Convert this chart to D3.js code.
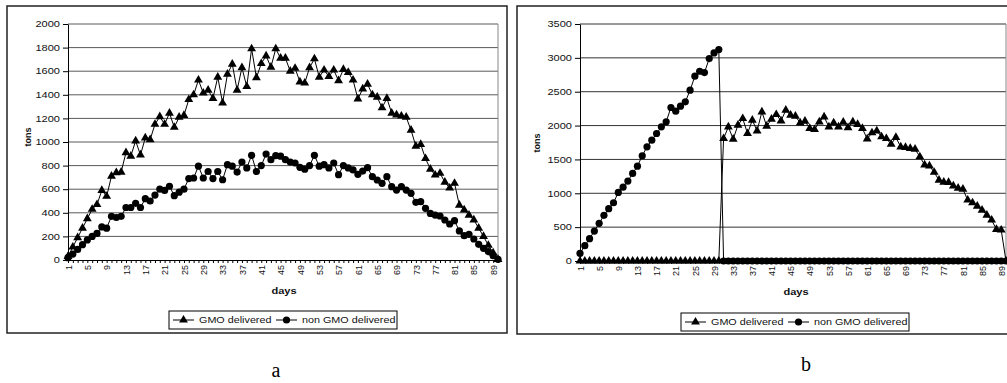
<!DOCTYPE html>
<html>
<head>
<meta charset="utf-8">
<script src="https://cdn.jsdelivr.net/npm/d3@7"></script>
<style>
  body { margin: 0; background: #fff; }
  svg { display: block; font-family: "Liberation Sans", Arial, sans-serif; }
</style>
</head>
<body>
<div id="chart"></div>
<script>
// categories: delivery days 1..90
var days = d3.range(1, 91);
var tickDays = [1, 5, 9, 13, 17, 21, 25, 29, 33, 37, 41, 45, 49, 53, 57, 61, 65, 69, 73, 77, 81, 85, 89];
var yTicksA = [0, 200, 400, 600, 800, 1000, 1200, 1400, 1600, 1800, 2000];
var yTicksB = [0, 500, 1000, 1500, 2000, 2500, 3000, 3500];
var seriesNames = ["GMO delivered", "non GMO delivered"];

// panel a
var gmoA = [
  30, 110, 190, 270, 350, 430, 470, 590, 540, 710,
  740, 745, 910, 880, 1010, 890, 1035, 1020, 1150, 1215,
  1150, 1245, 1125, 1210, 1225, 1360, 1400, 1525, 1415, 1440,
  1370, 1550, 1330, 1575, 1660, 1440, 1630, 1470, 1790, 1545,
  1665, 1730, 1635, 1790, 1710, 1710, 1600, 1625, 1510, 1500,
  1630, 1705, 1550, 1610, 1555, 1610, 1520, 1615, 1590, 1525,
  1365, 1450, 1490, 1400, 1380, 1290, 1370, 1245, 1230, 1220,
  1210, 1100, 965, 980, 860, 770, 720, 735, 660, 610,
  650, 465, 425, 380, 340, 270, 200, 125, 60, 5
];
var nonGmoA = [
  20, 50, 90, 130, 170, 200, 225, 280, 270, 370,
  360, 370, 445, 445, 480, 445, 520, 500, 550, 600,
  590, 625, 545, 575, 600, 690, 695, 795, 695, 750,
  690, 750, 680, 808, 795, 745, 830, 780, 887, 750,
  800, 898, 850, 885, 880, 850, 830, 822, 785, 770,
  800, 887, 795, 808, 780, 822, 723, 800, 780, 763,
  726, 754, 782, 706, 678, 650, 706, 621, 593, 621,
  593, 565, 489, 494, 438, 395, 381, 373, 339, 305,
  333, 246, 206, 218, 178, 133, 99, 71, 37, 6
];

// panel b
var gmoB = [
  0, 0, 0, 0, 0, 0, 0, 0, 0, 0,
  0, 0, 0, 0, 0, 0, 0, 0, 0, 0,
  0, 0, 0, 0, 0, 0, 0, 0, 0, 0,
  1809, 1981, 1800, 2006, 2104, 1883, 2080, 1922, 2203, 1991,
  2094, 2163, 2070, 2227, 2153, 2139, 2040, 2065, 1957, 1942,
  2055, 2129, 1981, 2040, 1981, 2050, 1969, 2055, 2016, 1957,
  1804, 1893, 1922, 1834, 1809, 1726, 1824, 1686, 1677, 1662,
  1652, 1539, 1420, 1405, 1310, 1195, 1165, 1160, 1110, 1075,
  1060, 900, 860, 811, 752, 678, 605, 467, 457, 0
];
var nonGmoB = [
  113, 226, 330, 442, 556, 674, 772, 860, 1013, 1090,
  1180, 1293, 1401, 1554, 1686, 1785, 1883, 1981, 2055, 2267,
  2212, 2286, 2350, 2522, 2729, 2802, 2783, 2989, 3073, 3122,
  0, 0, 0, 0, 0, 0, 0, 0, 0, 0,
  0, 0, 0, 0, 0, 0, 0, 0, 0, 0,
  0, 0, 0, 0, 0, 0, 0, 0, 0, 0,
  0, 0, 0, 0, 0, 0, 0, 0, 0, 0,
  0, 0, 0, 0, 0, 0, 0, 0, 0, 0,
  0, 0, 0, 0, 0, 0, 0, 0, 0, 0
];

var W = 1007, H = 383;
var STRETCH = 1.3;   // the scanned figure is wider than tall

var svg = d3.select("#chart").append("svg")
  .attr("width", W)
  .attr("height", H);
svg.append("rect").attr("width", W).attr("height", H).attr("fill", "#fff");

var triangle = d3.symbol().type(d3.symbolTriangle).size(34);

function hText(g, x, y, txt, anchor, size, weight) {
  return g.append("text")
    .attr("transform", "translate(" + x + "," + y + ") scale(" + STRETCH + ",1)")
    .attr("text-anchor", anchor)
    .style("font-size", size + "px")
    .style("font-weight", weight || "normal")
    .attr("fill", "#111")
    .text(txt);
}

function drawMarkers(g, sel, type) {
  if (type == "tri") {
    sel.append("path").attr("d", triangle).attr("fill", "#000");
  } else {
    sel.append("circle").attr("r", 3.6).attr("fill", "#000");
  }
}

function drawPanel(cfg) {
  var g = svg.append("g").attr("class", "panel");
  var p = cfg.plot;

  // outer frame
  g.append("rect")
    .attr("x", cfg.box.x).attr("y", cfg.box.y)
    .attr("width", cfg.box.w).attr("height", cfg.box.h)
    .attr("fill", "none").attr("stroke", "#222").attr("stroke-width", 1.5);

  var x = d3.scalePoint().domain(days).range([p.left, p.right]).padding(0);
  var y = d3.scaleLinear().domain([0, cfg.yMax]).range([p.bottom, p.top]);

  // grid
  g.append("g").selectAll("line")
    .data(cfg.yTicks.filter(function (d) { return d > 0; }))
    .enter().append("line")
    .attr("x1", p.left).attr("x2", p.right)
    .attr("y1", function (d) { return y(d); })
    .attr("y2", function (d) { return y(d); })
    .attr("stroke", cfg.grid).attr("stroke-width", 1);

  g.append("line")
    .attr("x1", p.right).attr("x2", p.right)
    .attr("y1", p.top).attr("y2", p.bottom)
    .attr("stroke", "#888");

  // y axis
  var yAxis = g.append("g")
    .attr("transform", "translate(" + p.left + ",0)")
    .call(d3.axisLeft(y).tickValues(cfg.yTicks).tickFormat(d3.format("d"))
      .tickSize(5).tickSizeOuter(0).tickPadding(3));
  yAxis.attr("font-family", null).attr("font-size", null);
  yAxis.selectAll("text")
    .attr("x", 0)
    .attr("transform", "translate(-8,0) scale(" + STRETCH + ",1)")
    .style("font-size", "8.5px").attr("fill", "#111");

  // x axis
  var xAxis = g.append("g")
    .attr("transform", "translate(0," + p.bottom + ")")
    .call(d3.axisBottom(x).tickValues(days).tickSize(3).tickSizeOuter(0)
      .tickFormat(function (d) { return tickDays.indexOf(d) >= 0 ? d : ""; }));
  xAxis.attr("font-family", null).attr("font-size", null);
  xAxis.selectAll("text")
    .attr("transform", "rotate(-90)")
    .attr("x", -5).attr("y", 0).attr("dy", "0.35em")
    .style("text-anchor", "end")
    .style("font-size", "9px").attr("fill", "#111");
  g.selectAll(".domain").attr("stroke", "#000");
  g.selectAll(".tick line").attr("stroke", "#000");

  // series
  var line = d3.line()
    .x(function (d, i) { return x(days[i]); })
    .y(function (d) { return y(d); });

  var series = [
    { name: seriesNames[0], values: cfg.gmo, type: "tri" },
    { name: seriesNames[1], values: cfg.nonGmo, type: "dot" }
  ];

  series.forEach(function (s) {
    var sg = g.append("g").attr("class", "series");
    sg.append("path")
      .attr("d", line(s.values))
      .attr("fill", "none").attr("stroke", "#000").attr("stroke-width", 1);
    var pts = sg.selectAll(".pt")
      .data(s.values).enter().append("g")
      .attr("class", "pt")
      .attr("transform", function (d, i) { return "translate(" + x(days[i]) + "," + y(d) + ")"; });
    drawMarkers(sg, pts, s.type);
  });

  // axis titles
  g.append("text")
    .attr("transform", "translate(" + cfg.tons[0] + "," + cfg.tons[1] + ") rotate(-90)")
    .attr("text-anchor", "middle").attr("dy", "0.35em")
    .style("font-size", "9px").style("font-weight", "bold")
    .attr("fill", "#111")
    .text("tons");
  hText(g, cfg.daysPos[0], cfg.daysPos[1], "days", "middle", 8.5, "bold");

  // legend
  var L = cfg.legend;
  var lg = g.append("g").attr("transform", "translate(" + L.x + "," + L.y + ")");
  lg.append("rect").attr("width", L.w).attr("height", L.h)
    .attr("fill", "#fff").attr("stroke", "#000").attr("stroke-width", 1);
  var items = [{ x: 4, tx: 30, s: series[0] }, { x: 107, tx: 133, s: series[1] }];
  items.forEach(function (it) {
    lg.append("line")
      .attr("x1", it.x).attr("x2", it.x + 21)
      .attr("y1", L.h / 2).attr("y2", L.h / 2)
      .attr("stroke", "#000");
    var m = lg.append("g").attr("transform", "translate(" + (it.x + 10.5) + "," + (L.h / 2) + ")");
    drawMarkers(lg, m, it.s.type);
    hText(lg, it.tx, L.h / 2 + 3.2, it.s.name, "start", 8.3);
  });

  // caption
  g.append("text")
    .attr("x", cfg.caption[0]).attr("y", cfg.caption[1])
    .attr("text-anchor", "middle")
    .style("font-family", "'Liberation Serif', 'Times New Roman', serif")
    .style("font-size", "20px")
    .text(cfg.caption[2]);
}

drawPanel({
  box: { x: 7, y: 6, w: 500, h: 327 },
  plot: { left: 68, right: 498, top: 24, bottom: 260 },
  yMax: 2000, yTicks: yTicksA, grid: "#5a5a5a",
  gmo: gmoA, nonGmo: nonGmoA,
  tons: [28, 137], daysPos: [284, 294],
  legend: { x: 169, y: 311, w: 228, h: 18 },
  caption: [276, 377, "a"]
});

drawPanel({
  box: { x: 517, y: 6, w: 510, h: 328 },
  plot: { left: 580, right: 1006, top: 24, bottom: 261 },
  yMax: 3500, yTicks: yTicksB, grid: "#333",
  gmo: gmoB, nonGmo: nonGmoB,
  tons: [537, 143], daysPos: [796, 295],
  legend: { x: 681, y: 313, w: 228, h: 18 },
  caption: [806, 371, "b"]
});
</script>
</body>
</html>
